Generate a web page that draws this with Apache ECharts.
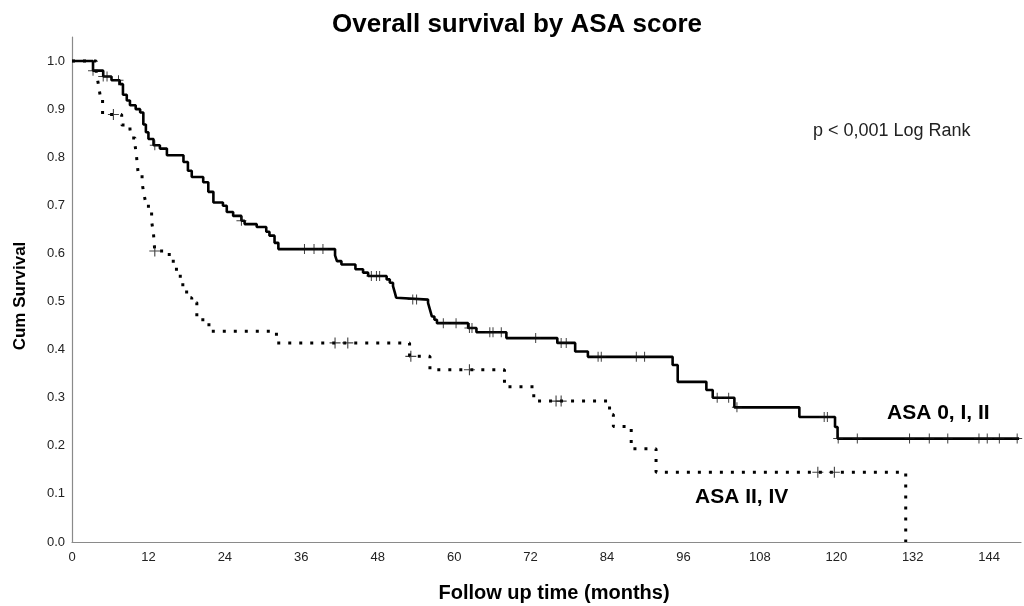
<!DOCTYPE html>
<html>
<head>
<meta charset="utf-8">
<script src="https://cdn.jsdelivr.net/npm/echarts@6/dist/echarts.min.js"></script>
<style>
  html, body { margin: 0; padding: 0; background: #fff; }
  #chart { width: 1024px; height: 606px; }
</style>
</head>
<body>
<div id="chart"></div>
<script>
// ---- Data ----
// Group ASA 0, I, II : event times (months) and survival after each step
const timesA = [0, 3.3, 4.9, 6.2, 7.5, 8.0, 8.6, 9.1, 10.0, 10.7, 11.2, 11.6, 12.0, 12.8, 13.8, 14.9,
  17.5, 18.2, 18.8, 20.6, 21.4, 22.2, 23.7, 24.3, 25.3, 26.6, 27.1, 29.0, 30.5, 31.0, 31.8, 32.4,
  41.3, 41.6, 42.3, 44.5, 45.7, 46.5, 49.4, 49.9, 50.4, 50.7, 50.9, 51.2, 55.9, 56.2, 56.5, 56.9, 57.3,
  62.2, 63.5, 68.2, 76.2, 79.0, 81.0, 94.3, 95.1, 99.6, 100.6, 104.0, 114.2, 119.8, 120.2, 148.7];
const survA = [1.0, 0.980, 0.968, 0.960, 0.952, 0.930, 0.918, 0.908, 0.900, 0.893, 0.868, 0.852, 0.838, 0.825, 0.818, 0.804,
  0.790, 0.772, 0.759, 0.748, 0.728, 0.706, 0.699, 0.686, 0.678, 0.668, 0.661, 0.655, 0.645, 0.637, 0.622, 0.609,
  0.596, 0.584, 0.577, 0.567, 0.560, 0.553, 0.546, 0.539, 0.532, 0.518, 0.508, 0.504, 0.497, 0.483, 0.469, 0.462, 0.455,
  0.445, 0.436, 0.424, 0.414, 0.396, 0.385, 0.368, 0.333, 0.316, 0.300, 0.280, 0.260, 0.239, 0.215, 0.215];
const censorA = [3.3, 4.9, 5.5, 7.3, 13.0, 26.6, 36.5, 38.0, 39.4, 47.0, 47.8, 48.3, 53.5, 54.1, 58.3, 60.3,
  62.4, 62.8, 65.6, 66.1, 67.4, 72.8, 76.8, 77.6, 82.6, 83.1, 88.6, 89.9, 101.3, 103.1, 104.4,
  118.1, 118.6, 120.3, 123.3, 131.5, 134.6, 137.5, 142.4, 143.7, 145.6, 148.4];

// Group ASA II, IV
const timesB = [0, 3.8, 4.1, 4.4, 4.8, 7.8, 9.1, 9.4, 9.9, 10.1, 10.4, 11.0, 11.2, 11.5, 12.0, 12.5, 12.8, 13.0,
  14.8, 15.9, 16.4, 17.0, 17.4, 18.0, 18.8, 19.6, 21.5, 32.1, 53.0, 56.2, 67.9, 72.5, 84.4, 85.0, 87.8, 91.7, 130.9];
const survB = [1.0, 0.975, 0.955, 0.930, 0.889, 0.867, 0.858, 0.840, 0.825, 0.806, 0.765, 0.748, 0.730, 0.710, 0.690, 0.667, 0.640, 0.605,
  0.598, 0.580, 0.556, 0.540, 0.525, 0.508, 0.498, 0.462, 0.438, 0.414, 0.386, 0.358, 0.323, 0.293, 0.265, 0.240, 0.194, 0.145, 0.0];
const censorB = [6.5, 13.0, 41.3, 43.3, 53.2, 62.4, 76.0, 76.8, 117.1, 119.7];

const xTicks = [0, 12, 24, 36, 48, 60, 72, 84, 96, 108, 120, 132, 144];
const yTicks = [0.0, 0.1, 0.2, 0.3, 0.4, 0.5, 0.6, 0.7, 0.8, 0.9, 1.0];

const labelA = 'ASA 0, I, II';
const labelB = 'ASA II, IV';
const chartTitle = 'Overall survival by ASA score';
const xTitle = 'Follow up time (months)';
const yTitle = 'Cum Survival';
const pText = 'p < 0,001 Log Rank';

// ---- helpers ----
function stepAt(times, vals, t) {
  let v = vals[0];
  for (let i = 0; i < times.length; i++) { if (times[i] <= t + 1e-9) v = vals[i]; }
  return v;
}
const lineA = timesA.map((t, i) => [t, survA[i]]);
const lineB = timesB.map((t, i) => [t, survB[i]]);
const censA = censorA.map(t => [t, stepAt(timesA, survA, t)]);
const censB = censorB.map(t => [t, stepAt(timesB, survB, t)]);

const plusPath = 'path://M4.5,0h1v4.5h4.5v1h-4.5v4.5h-1v-4.5h-4.5v-1h4.5z';
const FONT = '"Liberation Sans", Arial, sans-serif';

const chart = echarts.init(document.getElementById('chart'), null, { renderer: 'canvas' });
chart.setOption({
  animation: false,
  backgroundColor: '#ffffff',
  textStyle: { fontFamily: FONT },
  grid: { left: 72, right: 2, top: 37, bottom: 64, containLabel: false },
  xAxis: {
    type: 'value', min: 0, max: 149, interval: 12,
    axisLine: { show: true, lineStyle: { color: '#8a8a8a', width: 1.2 } },
    axisTick: { show: false },
    splitLine: { show: false },
    axisLabel: {
      color: '#222', fontSize: 13, fontFamily: FONT, margin: 9,
      formatter: v => xTicks.includes(Math.round(v)) && Math.abs(v - Math.round(v)) < 1e-6 ? String(Math.round(v)) : ''
    }
  },
  yAxis: {
    type: 'value', min: 0, max: 1.05, interval: 0.1,
    axisLine: { show: true, lineStyle: { color: '#8a8a8a', width: 1.2 } },
    axisTick: { show: false },
    splitLine: { show: false },
    axisLabel: {
      color: '#222', fontSize: 13, fontFamily: FONT, margin: 7,
      formatter: v => {
        const m = yTicks.find(t => Math.abs(t - v) < 1e-6);
        return m === undefined ? '' : m.toFixed(1);
      }
    }
  },
  series: [
    {
      name: labelA, type: 'line', step: 'end', data: lineA, showSymbol: false, symbol: 'none',
      lineStyle: { color: '#000', width: 2.6 }, z: 3
    },
    {
      name: labelB, type: 'line', step: 'end', data: lineB, showSymbol: false, symbol: 'none',
      lineStyle: { color: '#000', width: 3, type: [3, 8], cap: 'butt' }, z: 2
    },
    {
      name: labelA + ' censored', type: 'scatter', data: censA, symbol: plusPath, symbolSize: 10,
      itemStyle: { color: '#111' }, z: 4
    },
    {
      name: labelB + ' censored', type: 'scatter', data: censB, symbol: plusPath, symbolSize: 11,
      itemStyle: { color: '#111' }, z: 4
    }
  ],
  graphic: [
    { type: 'text', x: 517, y: 25, style: { text: chartTitle, font: 'bold 26px ' + FONT, fill: '#000', textAlign: 'center', textVerticalAlign: 'middle' } },
    { type: 'text', x: 554, y: 593, style: { text: xTitle, font: 'bold 20px ' + FONT, fill: '#000', textAlign: 'center', textVerticalAlign: 'middle' } },
    { type: 'text', x: 20, y: 296, rotation: Math.PI / 2, style: { text: yTitle, font: 'bold 17px ' + FONT, fill: '#000', textAlign: 'center', textVerticalAlign: 'middle' } },
    { type: 'text', x: 813, y: 131, style: { text: pText, font: '18px ' + FONT, fill: '#222', textAlign: 'left', textVerticalAlign: 'middle' } },
    { type: 'text', x: 887, y: 413, style: { text: labelA, font: 'bold 21px ' + FONT, fill: '#000', textAlign: 'left', textVerticalAlign: 'middle' } },
    { type: 'text', x: 695, y: 497, style: { text: labelB, font: 'bold 21px ' + FONT, fill: '#000', textAlign: 'left', textVerticalAlign: 'middle' } }
  ]
});
</script>
</body>
</html>
